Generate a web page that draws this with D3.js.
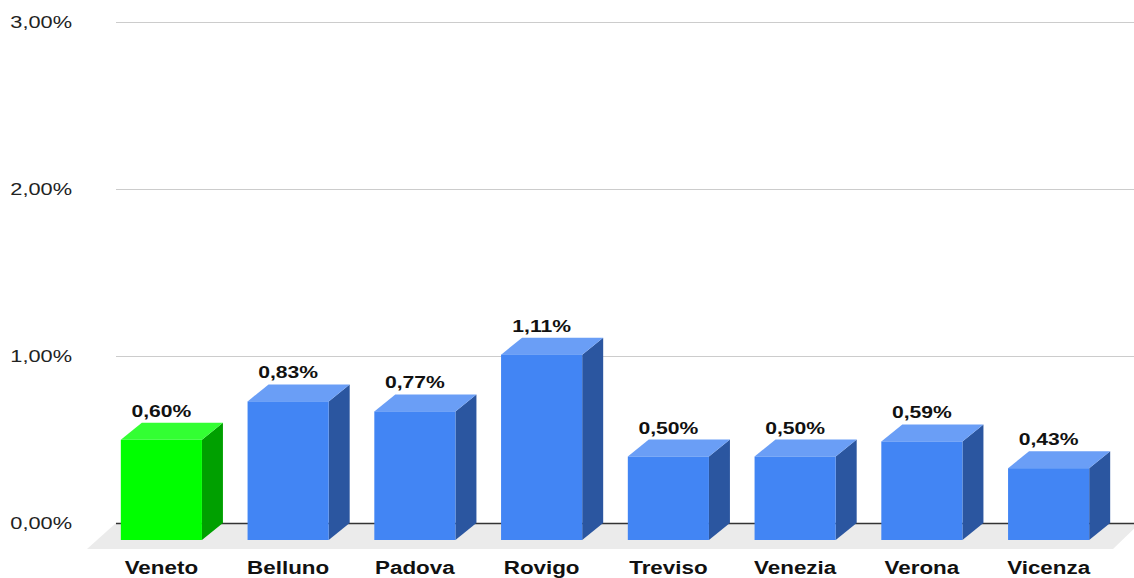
<!DOCTYPE html>
<html>
<head>
<meta charset="utf-8">
<script src="https://cdn.jsdelivr.net/npm/d3@7"></script>
<style>
  body { margin: 0; background: #fff; }
  svg { display: block; font-family: "Liberation Sans", Arial, sans-serif; }
</style>
</head>
<body>
<svg id="chart" width="1134" height="578"></svg>
<script>
const categories = ["Veneto", "Belluno", "Padova", "Rovigo", "Treviso", "Venezia", "Verona", "Vicenza"];
const values = [0.60, 0.83, 0.77, 1.11, 0.50, 0.50, 0.59, 0.43];
const labels = ["0,60%", "0,83%", "0,77%", "1,11%", "0,50%", "0,50%", "0,59%", "0,43%"];
const ticks = [0, 1, 2, 3];
const tickLabels = ["0,00%", "1,00%", "2,00%", "3,00%"];

const width = 1134, height = 578;
const depthX = 21, depthY = 17; // 3d offset of the bar fronts
const stretch = 1.28;           // text in the picture is stretched horizontally

const blue = { front: "#4285f4", top: "#6a9ef6", side: "#2b56a0" };
const green = { front: "#00ff00", top: "#33ff33", side: "#00a000" };

const svg = d3.select("#chart");

const y = d3.scaleLinear().domain([0, 3]).range([523, 22]);
const x = d3.scaleBand()
  .domain(categories)
  .range([98, 1112])
  .paddingInner(0.36)
  .paddingOuter(0.18);

// floor
svg.append("path")
  .attr("d", `M116,${y(0)} L1140,${y(0)} L1113,549 L87,549 Z`)
  .attr("fill", "#ebebeb");

// gridlines
svg.append("g")
  .selectAll("line")
  .data(ticks.filter((t) => t > 0))
  .join("line")
  .attr("x1", 116)
  .attr("x2", width)
  .attr("y1", (d) => y(d) + 0.5)
  .attr("y2", (d) => y(d) + 0.5)
  .attr("stroke", "#cccccc")
  .attr("stroke-width", 1);

svg.append("line")
  .attr("x1", 116)
  .attr("x2", width)
  .attr("y1", y(0) + 0.5)
  .attr("y2", y(0) + 0.5)
  .attr("stroke", "#333333")
  .attr("stroke-width", 1.5);

// y axis labels
svg.append("g")
  .selectAll("g")
  .data(ticks)
  .join("g")
  .attr("transform", (d) => `translate(72,${y(d)}) scale(${stretch},1)`)
  .append("text")
  .attr("text-anchor", "end")
  .attr("dy", "0.36em")
  .attr("font-size", 17)
  .attr("fill", "#222")
  .text((d, i) => tickLabels[i]);

// bars
const bars = svg.append("g")
  .selectAll("g")
  .data(categories)
  .join("g");

bars.each(function (c, i) {
  const g = d3.select(this);
  const col = i === 0 ? green : blue;
  const x0 = x(c);
  const w = x.bandwidth();
  const yb = y(0) + depthY;             // front base
  const yt = y(values[i]) + depthY;     // front top
  const backTop = y(values[i]);

  // side
  g.append("path")
    .attr("d", `M${x0 + w},${yt} L${x0 + w + depthX},${backTop} L${x0 + w + depthX},${y(0)} L${x0 + w},${yb} Z`)
    .attr("fill", col.side);
  // top
  g.append("path")
    .attr("d", `M${x0},${yt} L${x0 + depthX},${backTop} L${x0 + w + depthX},${backTop} L${x0 + w},${yt} Z`)
    .attr("fill", col.top);
  // front
  g.append("rect")
    .attr("x", x0)
    .attr("y", yt)
    .attr("width", w)
    .attr("height", yb - yt)
    .attr("fill", col.front);

  // value label
  g.append("g")
    .attr("transform", `translate(${x0 + w / 2},${backTop - 6}) scale(${stretch},1)`)
    .append("text")
    .attr("text-anchor", "middle")
    .attr("font-size", 16.5)
    .attr("font-weight", "bold")
    .attr("fill", "#111")
    .text(labels[i]);

  // category label
  g.append("g")
    .attr("transform", `translate(${x0 + w / 2},573.5) scale(${stretch},1)`)
    .append("text")
    .attr("text-anchor", "middle")
    .attr("font-size", 17.5)
    .attr("font-weight", "bold")
    .attr("fill", "#111")
    .text(c);
});
</script>
</body>
</html>
